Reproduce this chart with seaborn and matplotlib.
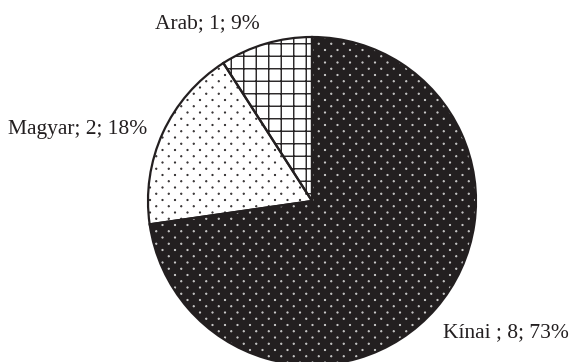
import numpy as np
import matplotlib
matplotlib.use("Agg")
import matplotlib.pyplot as plt
import matplotlib.hatch as mhatch
from matplotlib.path import Path
import seaborn as sns

# ---- data ----
categories = ["Kínai", "Magyar", "Arab"]
counts = [8, 2, 1]
percents = [73, 18, 9]
label_texts = ["Kínai ; 8; 73%", "Magyar; 2; 18%", "Arab; 1; 9%"]

# ---- styles ----
INK = "#231f20"
face_colors = [INK, "white", "white"]
hatch_colors = ["#d8d8d8", INK, INK]
hatch_patterns = [".", ".", "+"]

# label anchor positions (axes data units, left/baseline)
label_pos = [(0.799, -0.829), (-1.854, 0.409), (-0.957, 1.055)]


# ---- custom diagonal dot lattice hatch (rows half-spaced, staggered) ----
class DiagDots(mhatch.HatchPatternBase):
    def __init__(self, hatch, density):
        n = hatch.count(".") * density
        self.n = n
        circ = Path.unit_circle()
        self.cv = circ.vertices
        self.cc = circ.codes
        if n == 0:
            self.num_vertices = 0
            self.pts = np.empty((0, 2))
            return
        pts = []
        for r in range(2 * n + 1):
            if r % 2 == 0:
                cols = np.linspace(0, 1, n + 1)
            else:
                cols = np.linspace(0.5 / n, 1 - 0.5 / n, n)
            for c in cols:
                pts.append((c, r / (2.0 * n)))
        self.pts = np.array(pts)
        self.num_vertices = len(self.pts) * len(self.cv)

    def set_vertices_and_codes(self, vertices, codes):
        rad = 0.004
        vparts = [self.cv * rad + p for p in self.pts]
        cparts = [self.cc for _ in self.pts]
        np.concatenate(vparts, out=vertices)
        np.concatenate(cparts, out=codes)


mhatch._hatch_types = [DiagDots if t is mhatch.SmallFilledCircles else t
                       for t in mhatch._hatch_types]
_orig_get_path = mhatch.get_path


def _get_path(hatchpattern, density=6):
    return _orig_get_path(hatchpattern, 8)


mhatch.get_path = _get_path

sns.set_theme(style="white")
plt.rcParams["font.family"] = ["Liberation Serif", "DejaVu Serif"]
plt.rcParams["hatch.linewidth"] = 1.0

fig = plt.figure(figsize=(5.74, 3.62), dpi=100)
fig.patch.set_facecolor("white")
ax = fig.add_axes([0, 0, 1, 1])

# fill + hatch layer
wedges, _ = ax.pie(counts, startangle=90, counterclock=False, radius=1,
                   wedgeprops=dict(linewidth=0))
for w, fc, hc, hp in zip(wedges, face_colors, hatch_colors, hatch_patterns):
    w.set_facecolor(fc)
    w.set_edgecolor(hc)
    w.set_hatch(hp)
    w.set_linewidth(0)

# outline layer
ax.pie(counts, startangle=90, counterclock=False, radius=1,
       wedgeprops=dict(fill=False, edgecolor=INK, linewidth=1.6))

for txt, (x, y) in zip(label_texts, label_pos):
    ax.text(x, y, txt, ha="left", va="baseline", fontsize=15.5, color=INK)

cx_px, cy_px, r_px = 312, 201, 164
W, H = 574, 362
ax.set_xlim(-cx_px / r_px, (W - cx_px) / r_px)
ax.set_ylim(-(H - cy_px) / r_px, cy_px / r_px)
ax.set_aspect("auto")
ax.axis("off")

fig.savefig("out.png", dpi=100, facecolor="white")
